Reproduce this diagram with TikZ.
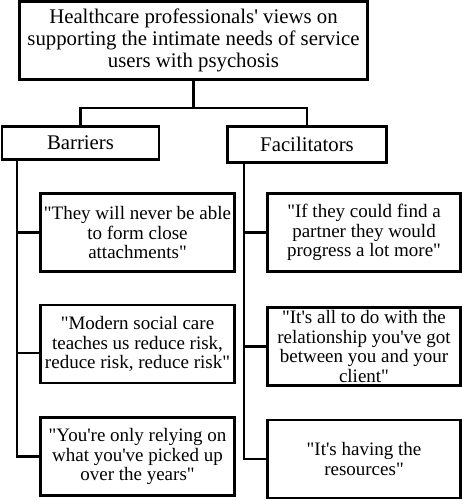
\documentclass[tikz,border=0pt]{standalone}
\usepackage{fontspec}
\setmainfont{Liberation Serif}[Ligatures=TeXOff]
\begin{document}
\begin{tikzpicture}[x=1pt,y=-1pt,
  box/.style={draw,line width=2.4pt,inner sep=0pt,align=center},
  conn/.style={line width=2.4pt},
  head/.style={box,font=\fontsize{20.8}{21.7}\selectfont},
  quote/.style={box,minimum height=78pt,font=\fontsize{19}{19.5}\selectfont}]
\useasboundingbox (0,0) rectangle (462,500);
\node[head,minimum width=348pt,minimum height=78pt] (top) at (193.5,40.5)
  {Healthcare professionals' views on\\supporting the intimate needs of service\\users with psychosis};
\node[head,minimum width=157pt,minimum height=33pt] (bar) at (80.5,143) {Barriers};
\node[head,minimum width=159pt,minimum height=36pt] (fac) at (307,144.5) {Facilitators};
\node[quote,minimum width=194pt] (b1) at (137.5,232.5) {"They will never be able\\to form close\\attachments"};
\node[quote,minimum width=194pt] (b2) at (137.5,344) {"Modern social care\\teaches us reduce risk,\\reduce risk, reduce risk"};
\node[quote,minimum width=194pt] (b3) at (137.5,456.5) {"You're only relying on\\what you've picked up\\over the years"};
\node[quote,minimum width=193pt] (f1) at (364,232.5) {"If they could find a\\partner they would\\progress a lot more"};
\node[quote,minimum width=193pt] (f2) at (364,346.5) {"It's all to do with the\\relationship you've got\\between you and your\\client"};
\node[quote,minimum width=193pt] (f3) at (364,459) {"It's having the\\resources"};
\coordinate (split) at (193.5,108);
\coordinate (bv) at (17,160);
\coordinate (fv) at (244,163);
\draw[conn] (top.south) -- (split);
\draw[conn] (bar.north) |- (split) -| (fac.north);
\draw[conn] (bv) |- (b3.west);
\draw[conn] (b1.west) -- (b1.west -| bv);
\draw[conn] ([yshift=-9pt]b2.west) -- ([yshift=-9pt]b2.west -| bv);
\draw[conn] (fv) |- (f3.west);
\draw[conn] (f1.west) -- (f1.west -| fv);
\draw[conn] (f2.west) -- (f2.west -| fv);
\end{tikzpicture}
\end{document}
